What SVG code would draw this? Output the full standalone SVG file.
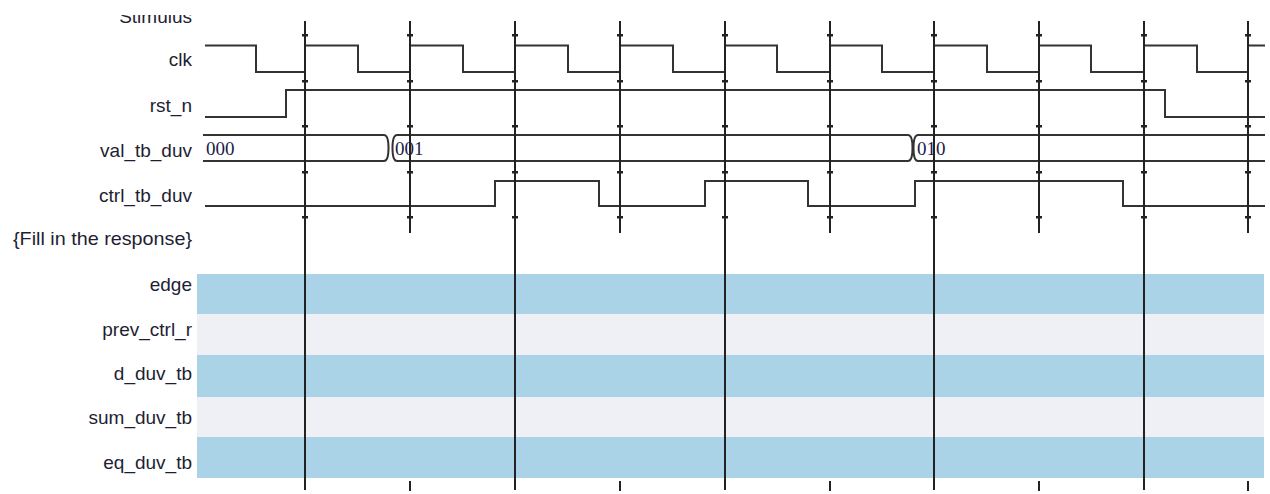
<svg xmlns="http://www.w3.org/2000/svg" width="1270" height="494" viewBox="0 0 1270 494">
<style>
.lbl{font-family:"Liberation Sans",Arial,sans-serif;font-size:19px;fill:#1e1e33;text-anchor:end}
.val{font-family:"Liberation Serif","Times New Roman",serif;font-size:19px;fill:#1c1c4a}
.wave{fill:none;stroke:#333;stroke-width:2;stroke-linejoin:miter}
.grid{stroke:#222;stroke-width:2}
.tick{fill:#222}
.blue{fill:#aad3e7}
.pale{fill:#eef0f6}
</style>
<defs>
<clipPath id="stimclip"><rect x="0" y="15" width="200" height="20"/></clipPath>
<g id="ticks"><rect class="tick" x="-3" y="34" width="6" height="2.5"/><rect class="tick" x="-3" y="80" width="6" height="2.5"/><rect class="tick" x="-3" y="125" width="6" height="2.5"/><rect class="tick" x="-3" y="171" width="6" height="2.5"/><rect class="tick" x="-3" y="216" width="6" height="2.5"/></g>
</defs>
<rect width="1270" height="494" fill="#ffffff"/>

<g id="stimulus-header"><text class="lbl" x="192" y="23" clip-path="url(#stimclip)">Stimulus</text></g>

<g id="bands">
<rect class="blue" x="197" y="274" width="1067" height="40"/>
<rect class="pale" x="197" y="314" width="1067" height="41"/>
<rect class="blue" x="197" y="355" width="1067" height="42"/>
<rect class="pale" x="197" y="397" width="1067" height="40"/>
<rect class="blue" x="197" y="437" width="1067" height="41"/>
</g>

<g id="clk"><text class="lbl" x="192" y="66">clk</text>
<path class="wave" d="M205,45.5 H256 V72 H305 V45.5 H358 V72 H410 V45.5 H463 V72 H515 V45.5 H568 V72 H620 V45.5 H673 V72 H725 V45.5 H777 V72 H830 V45.5 H882 V72 H934 V45.5 H987 V72 H1039 V45.5 H1091 V72 H1144 V45.5 H1197 V72 H1248 V45.5 H1265"/></g>

<g id="rst_n"><text class="lbl" x="192" y="112">rst_n</text>
<path class="wave" d="M205,117 H286 V90 H1165 V117 H1265"/></g>

<g id="val_tb_duv"><text class="lbl" x="192" y="157">val_tb_duv</text>
<path class="wave" d="M203,135 H384 Q388.5,135 388.5,148 Q388.5,161 384,161 H203"/>
<path class="wave" d="M1265,135 H918 Q913.5,135 913.5,148 Q913.5,161 918,161 H1265"/>
<path class="wave" d="M908,135 H397 Q392.5,135 392.5,148 Q392.5,161 397,161 H908 Q912.5,161 912.5,148 Q912.5,135 908,135"/>
<text class="val" x="206" y="155">000</text>
<text class="val" x="395" y="155">001</text>
<text class="val" x="917" y="155">010</text></g>

<g id="ctrl_tb_duv"><text class="lbl" x="192" y="202">ctrl_tb_duv</text>
<path class="wave" d="M205,206 H495 V181 H599 V206 H705 V181 H808 V206 H915 V181 H1123 V206 H1265"/></g>

<g id="fill-header"><text class="lbl" x="192" y="245" textLength="179" lengthAdjust="spacingAndGlyphs">{Fill in the response}</text></g>
<g id="edge"><text class="lbl" x="192" y="291">edge</text></g>
<g id="prev_ctrl_r"><text class="lbl" x="192" y="336">prev_ctrl_r</text></g>
<g id="d_duv_tb"><text class="lbl" x="192" y="380">d_duv_tb</text></g>
<g id="sum_duv_tb"><text class="lbl" x="192" y="424">sum_duv_tb</text></g>
<g id="eq_duv_tb"><text class="lbl" x="192" y="469">eq_duv_tb</text></g>

<g id="connectors">
<line class="grid" x1="305" y1="21" x2="305" y2="490"/>
<line class="grid" x1="410" y1="21" x2="410" y2="233"/><line class="grid" x1="410" y1="481" x2="410" y2="491"/>
<line class="grid" x1="515" y1="21" x2="515" y2="490"/>
<line class="grid" x1="620" y1="21" x2="620" y2="233"/><line class="grid" x1="620" y1="481" x2="620" y2="491"/>
<line class="grid" x1="725" y1="21" x2="725" y2="490"/>
<line class="grid" x1="830" y1="21" x2="830" y2="233"/><line class="grid" x1="830" y1="481" x2="830" y2="491"/>
<line class="grid" x1="934" y1="21" x2="934" y2="490"/>
<line class="grid" x1="1039" y1="21" x2="1039" y2="233"/><line class="grid" x1="1039" y1="481" x2="1039" y2="491"/>
<line class="grid" x1="1144" y1="21" x2="1144" y2="490"/>
<line class="grid" x1="1248" y1="21" x2="1248" y2="233"/><line class="grid" x1="1248" y1="481" x2="1248" y2="491"/>
<use href="#ticks" x="305"/><use href="#ticks" x="410"/><use href="#ticks" x="515"/><use href="#ticks" x="620"/><use href="#ticks" x="725"/>
<use href="#ticks" x="830"/><use href="#ticks" x="934"/><use href="#ticks" x="1039"/><use href="#ticks" x="1144"/><use href="#ticks" x="1248"/>
</g>
</svg>
